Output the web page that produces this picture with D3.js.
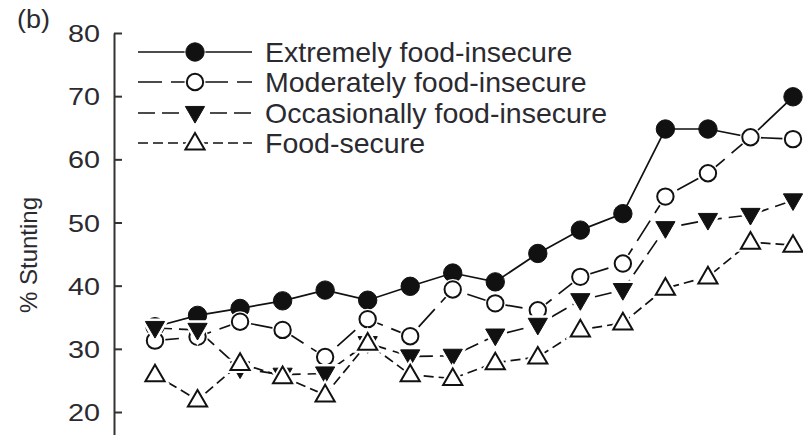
<!DOCTYPE html>
<html>
<head>
<meta charset="utf-8">
<script src="https://cdn.jsdelivr.net/npm/d3@7"></script>
<style>
  html, body { margin: 0; padding: 0; background: #fff; }
  svg { display: block; }
  text { font-family: "Liberation Sans", Arial, Helvetica, sans-serif; fill: #2a2a30; }
</style>
</head>
<body>
<svg id="chart" width="803" height="435"></svg>
<script>
// Age groups along the horizontal axis (axis labels not shown in this panel)
const categories = [1, 2, 3, 4, 5, 6, 7, 8, 9, 10, 11, 12, 13, 14, 15, 16];

// % stunting by household food-security status
const extremelyInsecure   = [33.5, 35.3, 36.4, 37.6, 39.3, 37.7, 39.9, 42.0, 40.6, 45.1, 48.8, 51.4, 64.8, 64.8, 63.5, 69.9];
const moderatelyInsecure  = [31.3, 31.9, 34.3, 33.0, 28.7, 34.7, 32.0, 39.4, 37.2, 36.1, 41.4, 43.5, 54.1, 57.8, 63.5, 63.2];
const occasionallyInsecure = [33.3, 33.0, 26.9, 25.9, 26.1, 30.9, 28.8, 28.9, 32.1, 33.8, 37.7, 39.3, 49.1, 50.4, 51.2, 53.5];
const foodSecure          = [25.9, 21.9, 27.7, 25.6, 22.7, 30.9, 25.9, 25.3, 27.8, 28.7, 33.0, 34.1, 39.6, 41.4, 46.9, 46.4];

const seriesNames = ["Extremely food-insecure", "Moderately food-insecure", "Occasionally food-insecure", "Food-secure"];
const yTicks = [20, 30, 40, 50, 60, 70, 80];

const series = [
  { name: seriesNames[0], values: extremelyInsecure,    dash: null,    marker: "circle",  filled: true  },
  { name: seriesNames[1], values: moderatelyInsecure,   dash: "24,9",  marker: "circle",  filled: false },
  { name: seriesNames[2], values: occasionallyInsecure, dash: "17,7",  marker: "tridown", filled: true  },
  { name: seriesNames[3], values: foodSecure,           dash: "10,5",  marker: "triup",   filled: false }
];

const svg = d3.select("#chart");
const ink = "#111";

const x = d3.scalePoint().domain(categories).range([155, 793]);
const y = d3.scaleLinear().domain([16.36, 80]).range([435, 33]);

// Y axis with inward ticks
const yAxis = svg.append("g")
  .attr("transform", "translate(114,0)")
  .call(d3.axisRight(y).tickValues(yTicks).tickSize(8).tickSizeOuter(0).tickFormat(d3.format("d")));
yAxis.select(".domain").attr("stroke", "#333").attr("stroke-width", 2);
yAxis.selectAll(".tick line").attr("stroke", "#333").attr("stroke-width", 2);
yAxis.selectAll(".tick text")
  .attr("x", -14).attr("dy", "0.36em")
  .attr("text-anchor", "end")
  .attr("textLength", 32)
  .attr("lengthAdjust", "spacingAndGlyphs")
  .style("font-size", "24px")
  .style("font-family", "'Liberation Sans', Arial, sans-serif")
  .attr("fill", "#2a2a30");

// Axis title and panel tag
svg.append("text")
  .attr("transform", "translate(37,255) rotate(-90)")
  .attr("text-anchor", "middle")
  .style("font-size", "24px")
  .text("% Stunting");

svg.append("text")
  .attr("x", 17).attr("y", 28)
  .attr("textLength", 33)
  .attr("lengthAdjust", "spacingAndGlyphs")
  .style("font-size", "25px")
  .text("(b)");

// Marker shapes
const triSize = 160;
const symUp = d3.symbol().type(d3.symbolTriangle).size(triSize);
function drawMarker(g, s, cx, cy, halo) {
  let el;
  if (s.marker === "circle") {
    if (halo) g.append("circle").attr("cx", cx).attr("cy", cy).attr("r", 10.5).attr("fill", "#fff");
    el = g.append("circle").attr("cx", cx).attr("cy", cy).attr("r", s.filled ? 9.2 : 8.2);
  } else {
    const rot = s.marker === "tridown" ? 180 : 0;
    const dy = s.marker === "tridown" ? -1 : 1;
    if (halo) g.append("path").attr("d", symUp())
      .attr("transform", `translate(${cx},${cy + dy}) rotate(${rot})`)
      .attr("fill", "#fff").attr("stroke", "#fff").attr("stroke-width", 6);
    el = g.append("path").attr("d", symUp())
      .attr("transform", `translate(${cx},${cy + dy}) rotate(${rot})`);
  }
  el.attr("fill", s.filled ? ink : "#fff")
    .attr("stroke", ink)
    .attr("stroke-width", s.filled ? 1 : 2);
}

// Lines
const line = d3.line().x((d, i) => x(categories[i])).y(d => y(d));
const linesG = svg.append("g");
series.forEach(s => {
  linesG.append("path")
    .datum(s.values)
    .attr("d", line)
    .attr("fill", "none")
    .attr("stroke", ink)
    .attr("stroke-width", 1.7)
    .attr("stroke-dasharray", s.dash);
});

// Markers
const marksG = svg.append("g");
series.forEach(s => {
  s.values.forEach((v, i) => drawMarker(marksG, s, x(categories[i]), y(v), !s.filled || s.marker === "tridown"));
});

// Legend
const legendRows = [52, 82, 113, 143];
const legend = svg.append("g");
series.forEach((s, i) => {
  const ly = legendRows[i];
  legend.append("line")
    .attr("x1", 138).attr("x2", 252).attr("y1", ly).attr("y2", ly)
    .attr("stroke", ink).attr("stroke-width", 1.7)
    .attr("stroke-dasharray", s.dash);
  drawMarker(legend, s, 195, ly, true);
  legend.append("text")
    .attr("x", 265).attr("y", ly + 10)
    .style("font-size", "28.5px")
    .text(s.name);
});
</script>
</body>
</html>
